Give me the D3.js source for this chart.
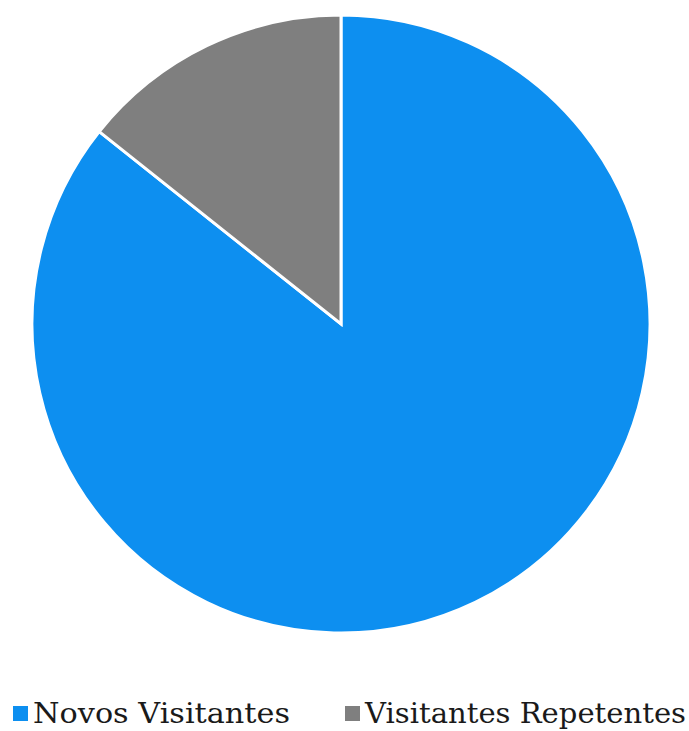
<!DOCTYPE html>
<html>
<head>
<meta charset="utf-8">
<script src="https://cdn.jsdelivr.net/npm/d3@7"></script>
<style>
  html, body { margin: 0; padding: 0; background: #ffffff; }
  svg { display: block; }
</style>
</head>
<body>
<svg id="chart" width="689" height="731"></svg>
<script>
// Visitor share
const categories = ["Novos Visitantes", "Visitantes Repetentes"];
const values = [85.7, 14.3];
const colors = ["#0d8ff0", "#7f7f7f"];

const svg = d3.select("#chart");
const cx = 341, cy = 324, radius = 309;

const data = categories.map((c, i) => ({ name: c, value: values[i], color: colors[i] }));

const pie = d3.pie().value(d => d.value).sort(null);
const arc = d3.arc().innerRadius(0).outerRadius(radius);

svg.append("g")
  .attr("transform", `translate(${cx},${cy})`)
  .selectAll("path")
  .data(pie(data))
  .join("path")
  .attr("d", arc)
  .attr("fill", d => d.data.color)
  .attr("stroke", "#ffffff")
  .attr("stroke-width", 3)
  .attr("stroke-linejoin", "miter");

// Legend
const legendItems = [
  { x: 13, textX: 33, width: 257 },
  { x: 345, textX: 365, width: 321 }
];

const legend = svg.append("g");
data.forEach((d, i) => {
  const li = legendItems[i];
  legend.append("rect")
    .attr("x", li.x).attr("y", 706)
    .attr("width", 15).attr("height", 15)
    .attr("fill", d.color);
  legend.append("text")
    .attr("x", li.textX).attr("y", 723)
    .attr("font-family", "'DejaVu Serif', 'Liberation Serif', serif")
    .attr("font-size", 27)
    .attr("fill", "#1a1a1a")
    .attr("textLength", li.width)
    .attr("lengthAdjust", "spacingAndGlyphs")
    .text(d.name);
});
</script>
</body>
</html>
